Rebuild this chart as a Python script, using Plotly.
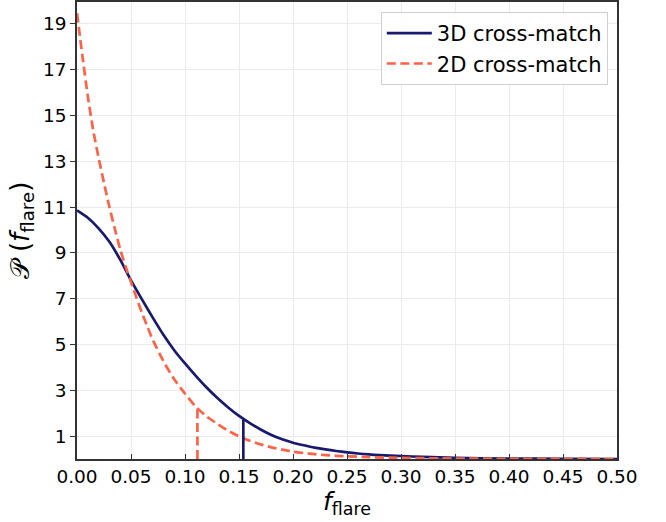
import plotly.graph_objects as go

# --- data ---
f_3d = [0.00, 0.01, 0.02, 0.03, 0.04, 0.05, 0.06, 0.07, 0.08, 0.09, 0.10,
        0.11, 0.12, 0.13, 0.14, 0.15, 0.16, 0.17, 0.18, 0.19, 0.20, 0.21,
        0.22, 0.23, 0.24, 0.25, 0.26, 0.27, 0.28, 0.29, 0.30, 0.32, 0.35,
        0.40, 0.45, 0.50]
p_3d = [10.85, 10.53, 10.07, 9.48, 8.7, 7.8, 6.98, 6.18, 5.42, 4.75, 4.17,
        3.63, 3.12, 2.66, 2.25, 1.88, 1.57, 1.29, 1.05, 0.86, 0.71, 0.6,
        0.5, 0.42, 0.35, 0.29, 0.24, 0.2, 0.17, 0.15, 0.13, 0.09, 0.05,
        0.02, 0.01, 0.0]

f_2d = [0.000, 0.005, 0.010, 0.015, 0.020, 0.025, 0.030, 0.035, 0.040, 0.045,
        0.050, 0.055, 0.060, 0.065, 0.070, 0.080, 0.090, 0.100, 0.110,
        0.120, 0.130, 0.140, 0.150, 0.160, 0.170, 0.180, 0.190, 0.200, 0.210,
        0.220, 0.230, 0.240, 0.250, 0.270, 0.300, 0.350, 0.400, 0.450, 0.500]
p_2d = [19.46, 17.6, 15.84, 14.35, 13.15, 12.05, 11.0, 10.05, 9.15, 8.4,
        7.72, 7.05, 6.4, 5.8, 5.22, 4.27, 3.48, 2.85, 2.28,
        1.86, 1.53, 1.23, 0.99, 0.8, 0.64, 0.51, 0.41, 0.32, 0.26,
        0.21, 0.17, 0.14, 0.12, 0.08, 0.05, 0.02, 0.01, 0.005, 0.0]

# vertical marker lines (threshold position, height at curve)
mark_3d = [0.154, 1.73]
mark_2d = [0.1115, 2.2]

series_names = ["3D cross-match", "2D cross-match"]
x_ticks = [0.00, 0.05, 0.10, 0.15, 0.20, 0.25, 0.30, 0.35, 0.40, 0.45, 0.50]
y_ticks = [1, 3, 5, 7, 9, 11, 13, 15, 17, 19]

C3 = "#191970"
C2 = "#ff6347"
DASH = "9px,4.5px"

fig = go.Figure()
fig.add_trace(go.Scatter(x=f_3d, y=p_3d, mode="lines", name=series_names[0],
                         line=dict(color=C3, width=2.7, shape="spline", smoothing=0.6)))
fig.add_trace(go.Scatter(x=f_2d, y=p_2d, mode="lines", name=series_names[1],
                         line=dict(color=C2, width=2.7, dash=DASH, shape="spline", smoothing=0.6)))
fig.add_trace(go.Scatter(x=[mark_3d[0], mark_3d[0]], y=[0, mark_3d[1]], mode="lines",
                         showlegend=False, line=dict(color=C3, width=2.7)))
fig.add_trace(go.Scatter(x=[mark_2d[0], mark_2d[0]], y=[0, mark_2d[1]], mode="lines",
                         showlegend=False, line=dict(color=C2, width=2.7, dash=DASH)))

fig.update_layout(
    width=666, height=522,
    margin=dict(l=77, r=49, t=2, b=63),
    paper_bgcolor="white", plot_bgcolor="white",
    font=dict(family="DejaVu Sans", size=18, color="black"),
    showlegend=True,
    legend=dict(x=0.983, y=0.978, xanchor="right", yanchor="top",
                bgcolor="rgba(255,255,255,0.9)", bordercolor="#d0d0d0", borderwidth=1,
                font=dict(size=21, family="DejaVu Sans"),
                itemwidth=45),
)
fig.update_xaxes(range=[0, 0.5], tickvals=x_ticks, ticktext=[f"{v:.2f}" for v in x_ticks],
                 automargin=False,
                 ticks="inside", ticklen=5, tickwidth=1.2, tickcolor="#333",
                 showline=True, linecolor="#333", linewidth=1.5, mirror=True,
                 showgrid=True, gridcolor="#ebebeb", gridwidth=1, zeroline=False,
                 tickfont=dict(size=18.5),
                 title=dict(text="<i>f</i><sub>flare</sub>", font=dict(size=25), standoff=4))
fig.update_yaxes(range=[0, 19.95], tickvals=y_ticks,
                 automargin=False,
                 ticks="outside", ticklen=5, tickwidth=1.2, tickcolor="#333",
                 showline=True, linecolor="#333", linewidth=1.5, mirror=True,
                 showgrid=True, gridcolor="#ebebeb", gridwidth=1, zeroline=False,
                 tickfont=dict(size=18.5),
                 title=dict(text="𝒫 (<i>f</i><sub>flare</sub>)", font=dict(size=26), standoff=6))

fig.write_html("out.html", config={"displayModeBar": False},
               post_script="document.body.style.margin='0';document.body.style.overflow='hidden';")
